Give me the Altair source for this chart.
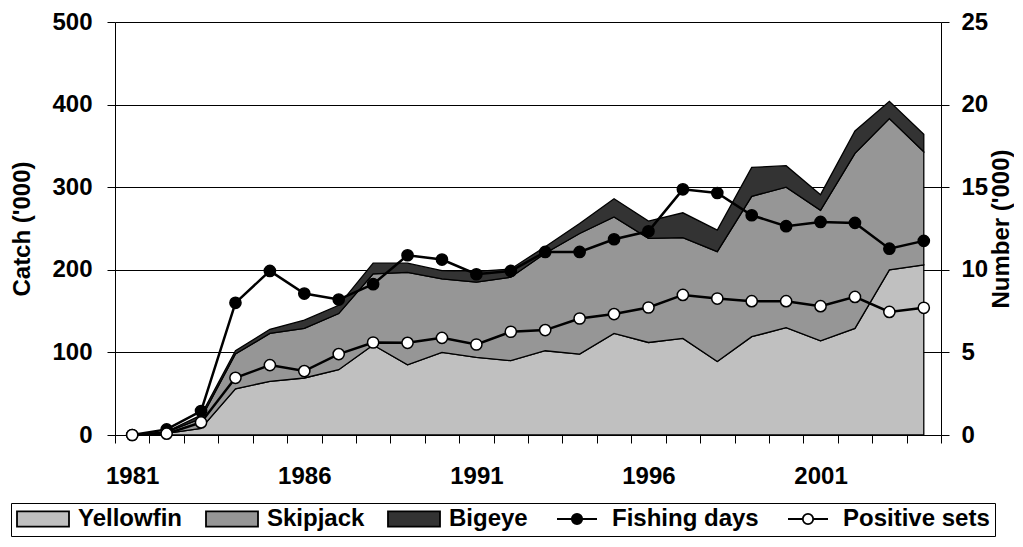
import altair as alt
import pandas as pd

years = list(range(1981, 2005))
yellowfin = [0, 2, 8, 56, 65, 69, 79, 109, 85, 100, 94, 90, 102, 98, 123, 112, 117, 89, 119, 130, 114, 129, 200, 206]
skipjack = [0, 1.5, 12, 42, 58, 60, 68, 86, 112, 89, 91, 101, 118, 146, 141, 126, 122, 133, 170, 170, 158, 212, 183, 137]
bigeye = [0, 0.5, 4, 4, 5, 10, 10, 13, 11, 10, 13, 10, 8, 12, 22, 21, 30, 26, 35, 26, 19, 27, 21, 21]
fishing_days = [0, 0.34, 1.45, 8.0, 9.93, 8.56, 8.2, 9.13, 10.88, 10.62, 9.73, 9.93, 11.08, 11.08,
                11.85, 12.33, 14.87, 14.65, 13.3, 12.64, 12.9, 12.84, 11.28, 11.75]
positive_sets = [0, 0.08, 0.76, 3.46, 4.23, 3.87, 4.9, 5.6, 5.58, 5.88, 5.48, 6.25, 6.35, 7.05,
                 7.32, 7.72, 8.48, 8.26, 8.1, 8.1, 7.8, 8.36, 7.45, 7.7]

species = ["Yellowfin", "Skipjack", "Bigeye"]
line_series = ["Fishing days", "Positive sets"]
all_series = species + line_series
fill_colors = ["#C0C0C0", "#969696", "#333333", "#000000", "#FFFFFF"]
stroke_colors = ["#000000"] * 5

# category boundaries (tick marks sit between years, as on a category axis)
year_bounds = [y - 0.5 for y in years] + [years[-1] + 0.5]

rect_path = "M-1,-0.29H1V0.29H-1Z"
line_dot_path = ("M-0.77,0H-0.2M0.2,0H0.77M-0.2,0A0.2,0.2,0,1,1,0.2,0"
                 "A0.2,0.2,0,1,1,-0.2,0Z")
legend_shapes = [rect_path, rect_path, rect_path, line_dot_path, line_dot_path]

catch_rows = []
for i, yr in enumerate(years):
    for k, (name, vals) in enumerate(zip(species, [yellowfin, skipjack, bigeye])):
        catch_rows.append({"year": yr, "series": name, "ord": k, "catch": vals[i]})
catch_df = pd.DataFrame(catch_rows)

num_rows = []
for name, vals in zip(line_series, [fishing_days, positive_sets]):
    for i, yr in enumerate(years):
        num_rows.append({"year": yr, "series": name, "number": vals[i]})
num_df = pd.DataFrame(num_rows)

FONT = "Liberation Sans"
PLOT_W = 826
fill_scale = alt.Scale(domain=all_series, range=fill_colors)
shape_scale = alt.Scale(domain=all_series, range=legend_shapes)
stroke_scale = alt.Scale(domain=all_series, range=stroke_colors)
x_scale = alt.Scale(domain=[year_bounds[0], year_bounds[-1]], nice=False, zero=False)
left_scale = alt.Scale(domain=[0, 500], nice=False)
right_scale = alt.Scale(domain=[0, 25], nice=False)

legend = alt.Legend(
    title=None, orient="none", legendX=-104, legendY=481, direction="horizontal",
    symbolSize=2704, symbolStrokeColor="black", symbolStrokeWidth=1.8, symbolOpacity=1,
    clipHeight=22, labelFont=FONT, labelFontSize=24, labelFontWeight="bold",
    labelColor="black", labelOffset=8, labelLimit=400, columnPadding=22, padding=5,
    strokeColor="black", fillColor="white", cornerRadius=0,
)

x_axis = alt.Axis(
    title=None, values=year_bounds, ticks=True, labelAngle=0, tickSize=8, tickWidth=1,
    labelPadding=21, labelOffset=PLOT_W / len(years) / 2, labelFlush=False,
    labelExpr="((datum.value + 0.5) - 1981) % 5 == 0 && datum.value < 2004 ? format(datum.value + 0.5, 'd') : ''",
    labelOverlap=False, grid=False, domainColor="black", tickColor="black", domainWidth=1,
)
x_enc = alt.X("year:Q", scale=x_scale, axis=x_axis)

left_axis = alt.Axis(
    title="Catch ('000)", values=[0, 100, 200, 300, 400, 500], tickSize=8, labelPadding=15,
    titlePadding=17, grid=True, gridColor="black", gridWidth=1, gridOpacity=1,
    domainColor="black", tickColor="black",
)
right_axis = alt.Axis(
    title="Number ('000)", orient="right", values=[0, 5, 10, 15, 20, 25], tickSize=8,
    labelPadding=12, titlePadding=2, titleAngle=270, titleBaseline="top", grid=False,
    domainColor="black", tickColor="black",
)

areas = alt.Chart(catch_df).mark_area(stroke="black", strokeWidth=1.3, opacity=1).encode(
    x=x_enc,
    y=alt.Y("catch:Q", stack="zero", scale=left_scale, axis=left_axis),
    fill=alt.Fill("series:N", scale=fill_scale, legend=legend),
    order=alt.Order("ord:Q"),
)

legend_driver = alt.Chart(catch_df).transform_filter("false").mark_point(
    filled=True, strokeWidth=1.8, opacity=1
).encode(
    x=x_enc,
    y=alt.Y("catch:Q", scale=left_scale, axis=left_axis),
    fill=alt.Fill("series:N", scale=fill_scale, legend=legend),
    shape=alt.Shape("series:N", scale=shape_scale, legend=legend),
    stroke=alt.Stroke("series:N", scale=stroke_scale, legend=legend),
)

left = alt.layer(areas, legend_driver)

lines = alt.Chart(num_df).mark_line(color="black", strokeWidth=2.5).encode(
    x=x_enc,
    y=alt.Y("number:Q", scale=right_scale, axis=right_axis),
    detail="series:N",
)
points = alt.Chart(num_df).mark_point(
    filled=True, shape="circle", size=125, stroke="black", strokeWidth=1.5, opacity=1
).encode(
    x=x_enc,
    y=alt.Y("number:Q", scale=right_scale, axis=right_axis),
    fill=alt.Fill("series:N", scale=fill_scale, legend=legend),
)
right = alt.layer(lines, points)

chart = alt.layer(left, right).resolve_scale(y="independent").properties(
    width=PLOT_W, height=413, padding={"left": 2, "top": 2, "right": 0, "bottom": 0}
).configure(font=FONT).configure_axis(
    labelFont=FONT, labelFontSize=24, labelFontWeight="bold", labelColor="black",
    titleFont=FONT, titleFontSize=24, titleFontWeight="bold", titleColor="black",
).configure_view(stroke=None)

chart.save("out.html", embed_options={"renderer": "svg", "actions": False})
